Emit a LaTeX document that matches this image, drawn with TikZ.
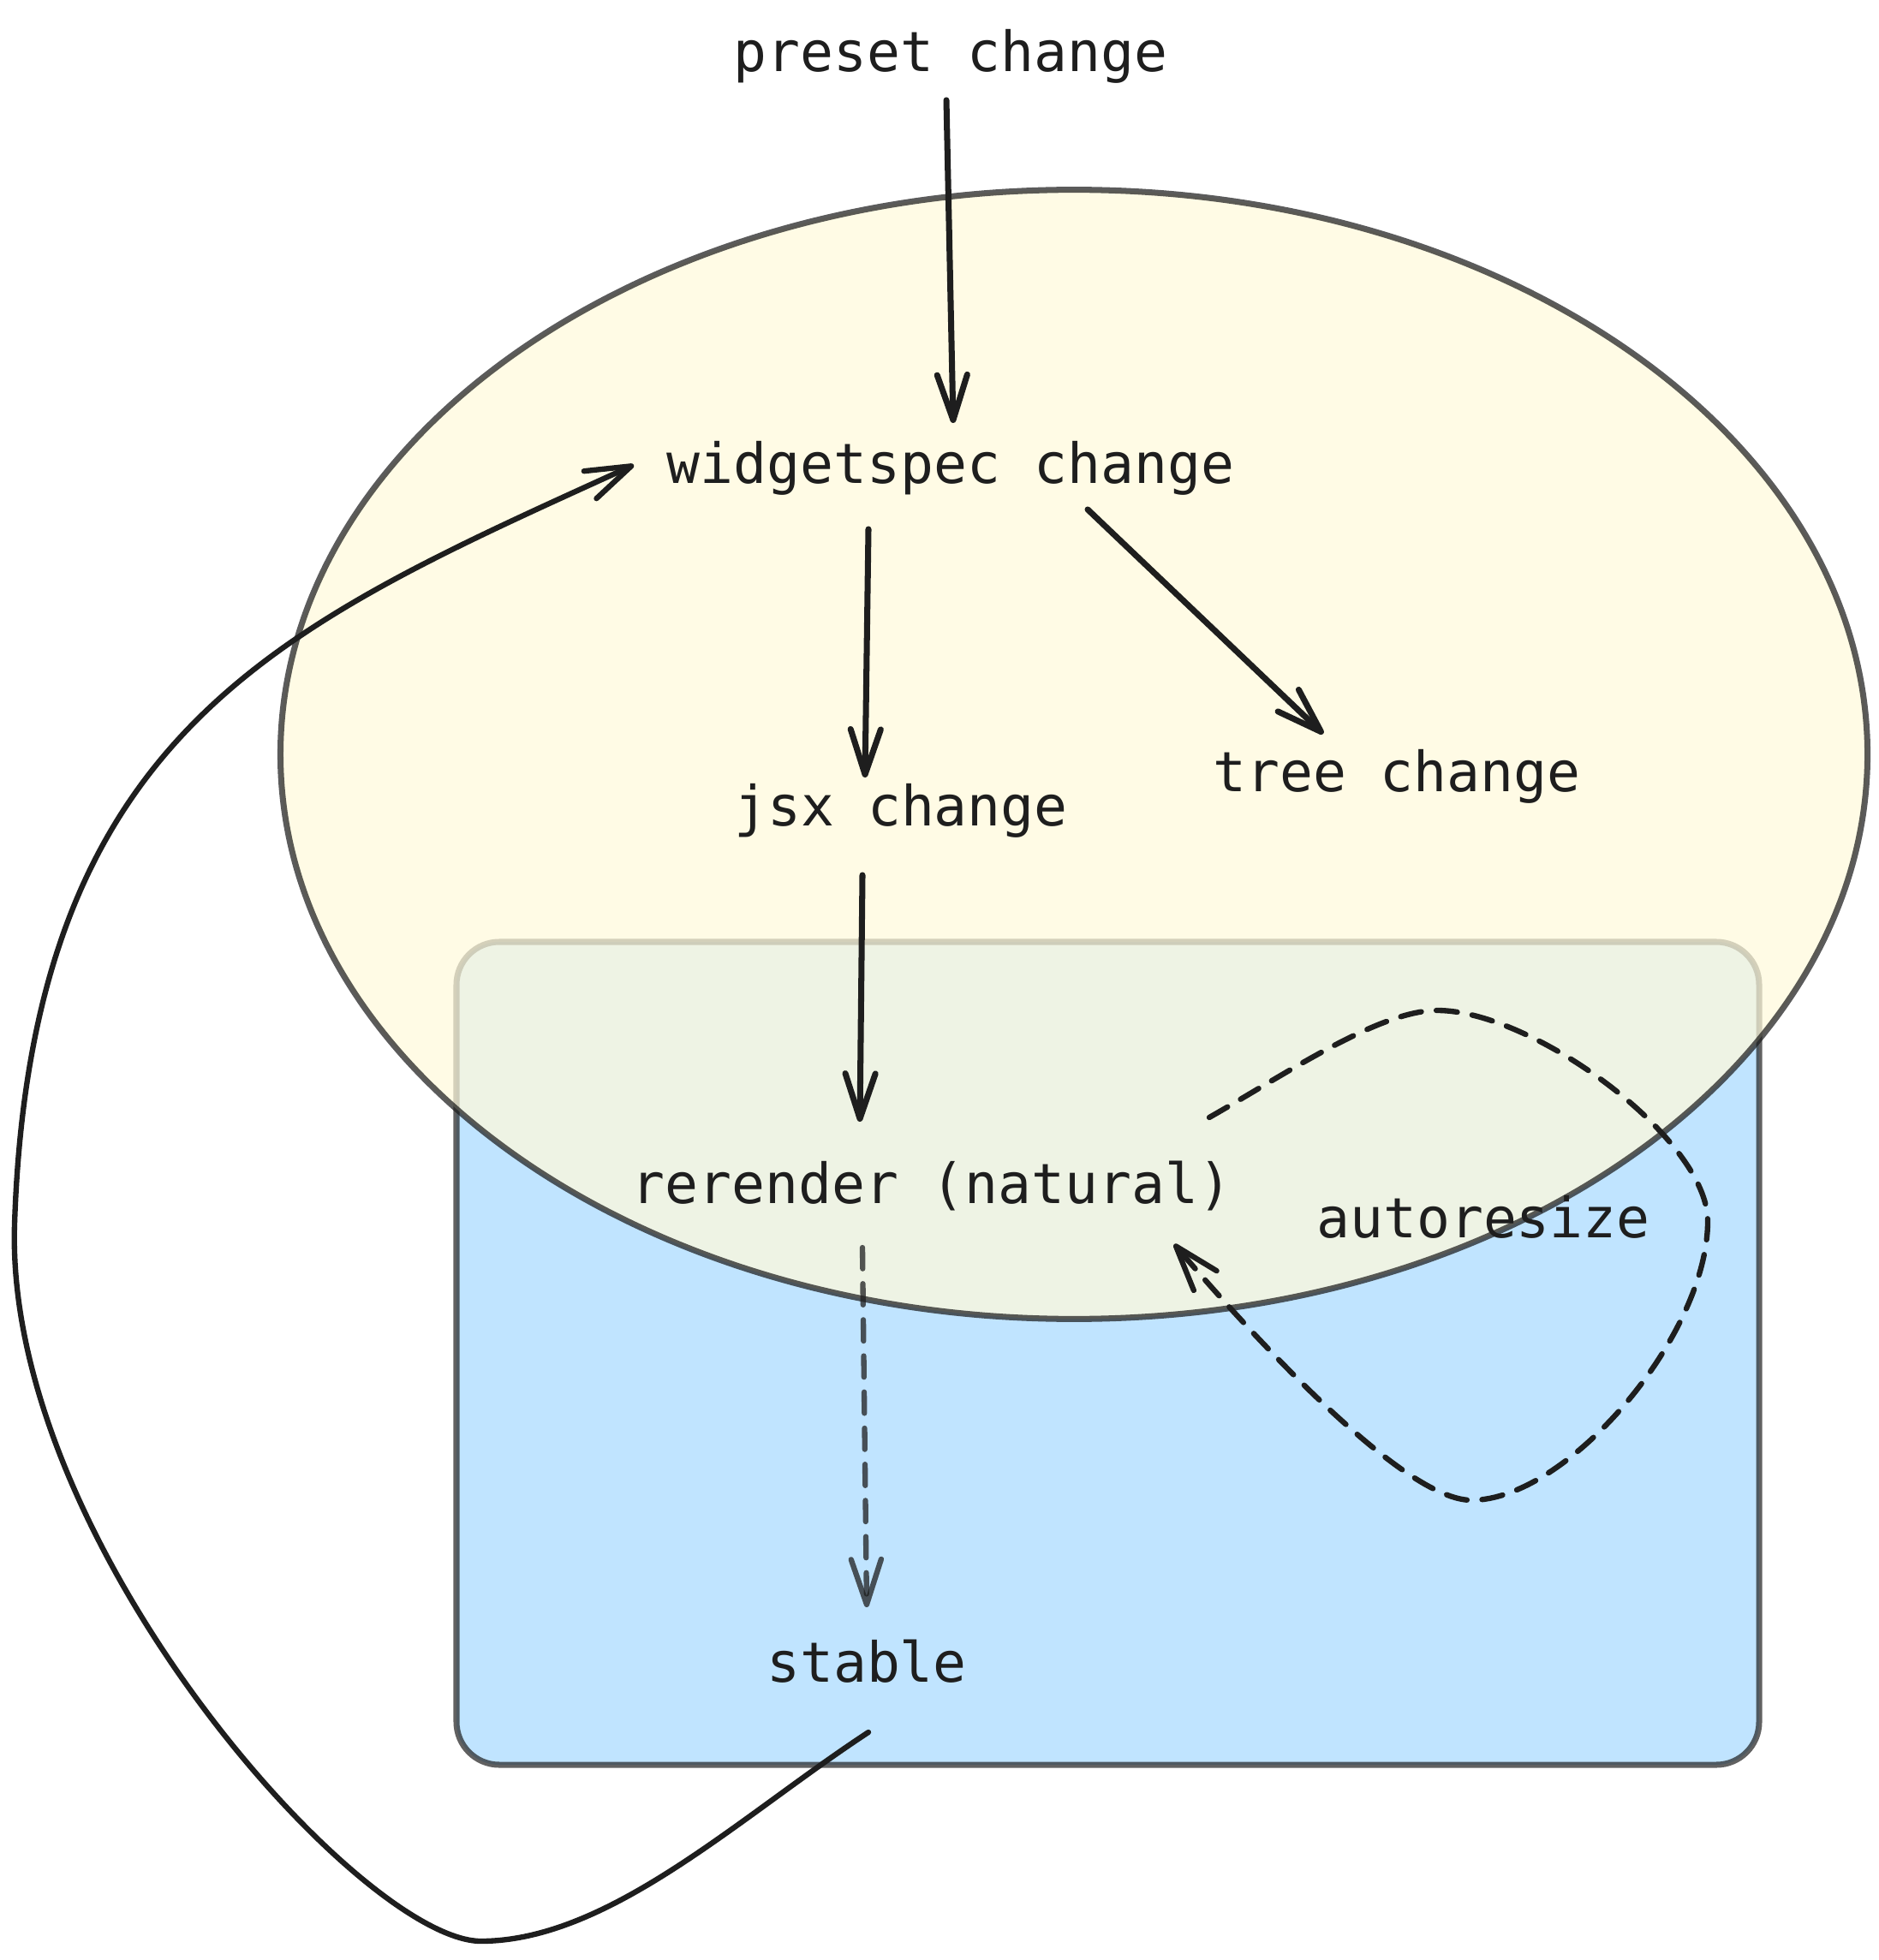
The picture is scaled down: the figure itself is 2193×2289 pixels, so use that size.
\documentclass[tikz,border=0pt]{standalone}
\usepackage{fontspec}
\newfontfamily\sketchfont{DejaVu Sans Mono}
\usetikzlibrary{arrows.meta,calc}
\definecolor{ink}{HTML}{1E1E1E}
\definecolor{paleyellow}{HTML}{FFF9DB}
\definecolor{paleblue}{HTML}{A5D8FF}

\begin{document}
\begin{tikzpicture}[x=0.01cm,y=-0.01cm]
                \tikzstyle{every node}+=[inner sep=0pt]
                \tikzstyle{lbl}=[anchor=base, text=ink, font=\sketchfont\fontsize{18.4}{22}\selectfont]
                \tikzstyle{flow}=[draw=ink, line width=2pt, line cap=round, line join=round, -{Straight Barb[round,length=15pt,width=10pt]}]
                \tikzstyle{dashflow}=[flow, line width=1.8pt, dash pattern=on 7pt off 5pt]
                \tikzstyle{panel}=[draw=ink, fill=paleblue, line width=2pt, opacity=0.7, rounded corners=0.5cm]
                \tikzstyle{blob}=[draw=ink, fill=paleyellow, line width=2pt, opacity=0.73]
                \useasboundingbox (0,0) rectangle (2193,2289);
                \draw [panel] (533,1100) rectangle (2054,2061);
                \draw [blob] (1254,881) ellipse [x radius=9.26cm, y radius=6.59cm];
                \node [lbl] (preset) at (1110,84) {preset change};
                \node [lbl] (widget) at (1110,565) {widgetspec change};
                \node [lbl] (jsx) at (1052,964) {jsx change};
                \node [lbl] (tree) at (1631,924) {tree change};
                \node [lbl] (rerender) at (1088,1405) {rerender (natural)};
                \node [lbl] (autoresize) at (1732,1445) {autoresize};
                \node [lbl] (stable) at (1012,1964) {stable};
                \draw [flow] ($(preset.base)+(-5,33)$) -- ($(widget.base)+(3,-71)$);
                \draw [flow] ($(widget.base)+(-96,53)$) -- ($(jsx.base)+(-42,-56)$);
                \draw [flow] ($(widget.base)+(160,30)$) -- ($(tree.base)+(-86,-67)$);
                \draw [flow] ($(jsx.base)+(-45,58)$) -- ($(rerender.base)+(-84,-95)$);
                \draw [dashflow, opacity=0.75] ($(rerender.base)+(-81,52)$) -- ($(stable.base)+(0,-87)$);
                \draw [dashflow] ($(rerender.base)+(324,-100)$) .. controls (1500,1255) and (1610,1180) .. (1678,1180)
                    .. controls (1790,1180) and (1994,1330) .. (1994,1426)
                    .. controls (1994,1560) and (1830,1752) .. (1718,1752)
                    .. controls (1640,1752) and (1468,1567) .. ($(rerender.base)+(283,48)$);
                \draw [flow, line width=1.8pt] ($(stable.base)+(2,59)$) .. controls (863,2122) and (711,2267) .. (561,2267)
                    .. controls (420,2265) and (5,1800) .. (17,1430)
                    .. controls (36,850) and (330,730) .. ($(widget.base)+(-370,-22)$);
\end{tikzpicture}
\end{document}
